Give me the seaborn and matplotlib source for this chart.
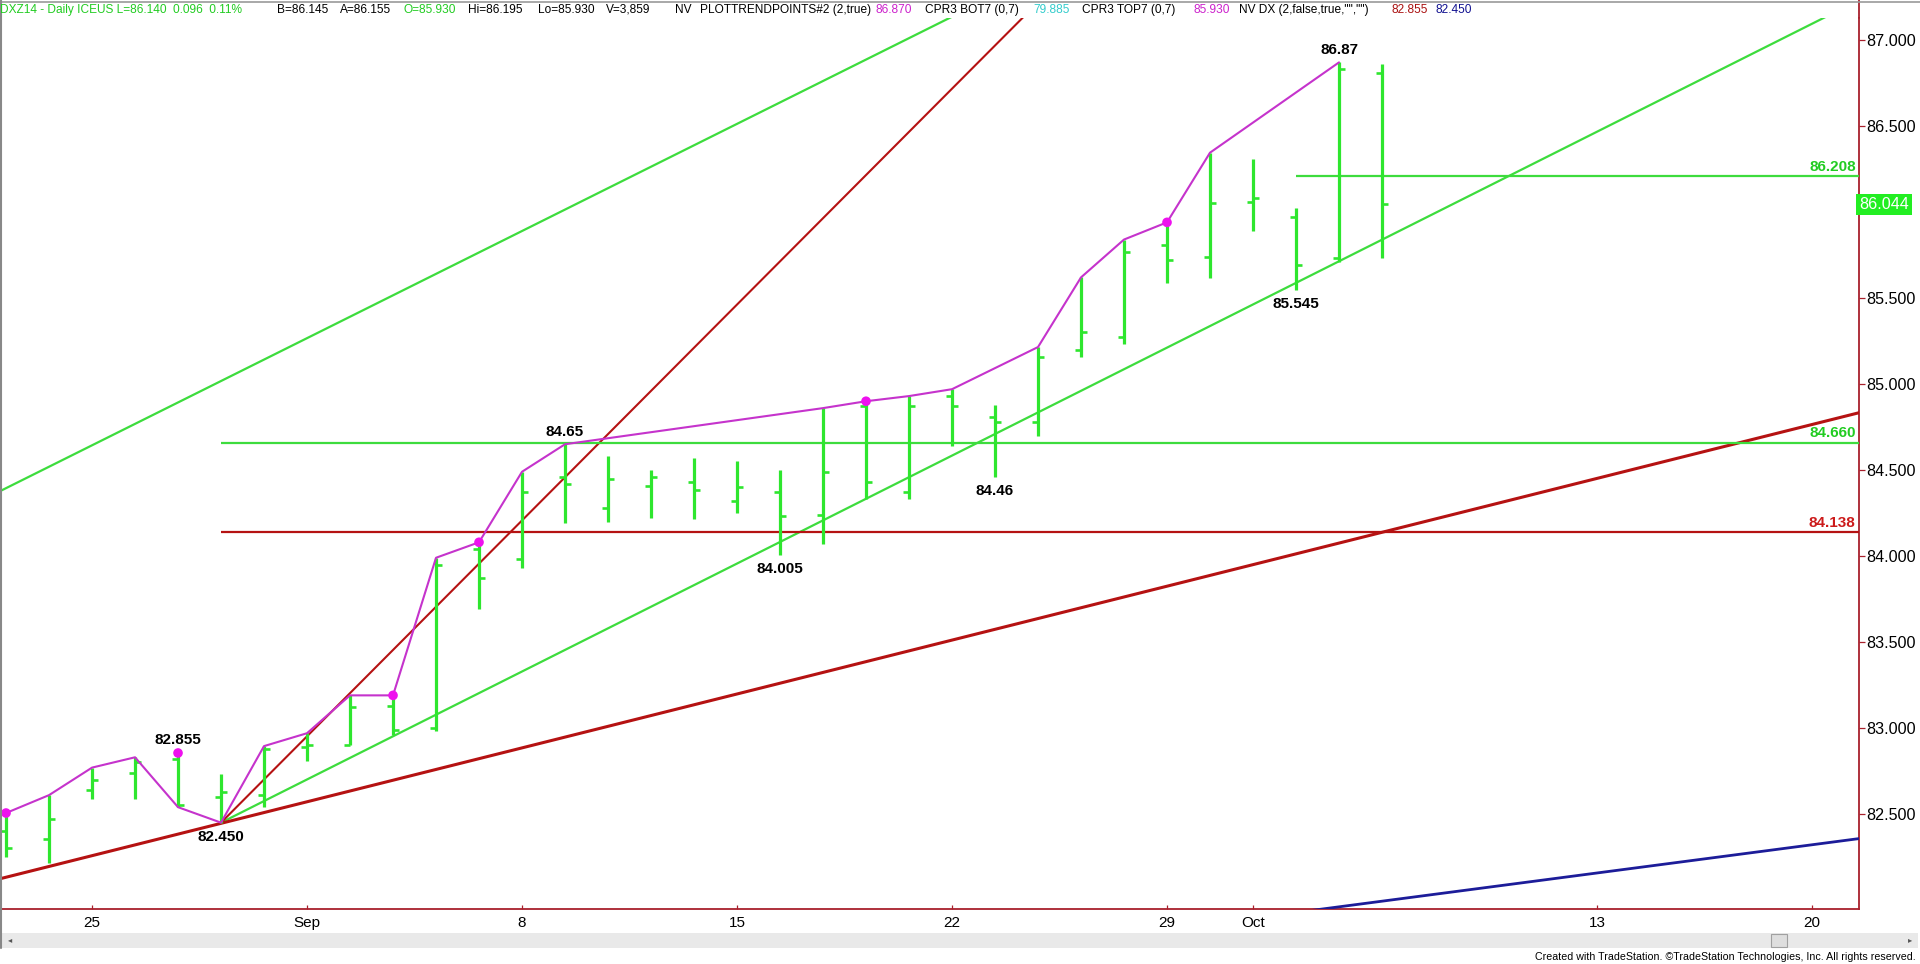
import numpy as np
import pandas as pd
import matplotlib
matplotlib.use("Agg")
import matplotlib.pyplot as plt
import matplotlib.transforms as mtransforms
import seaborn as sns
from matplotlib import font_manager
from matplotlib.patches import Rectangle
from matplotlib.lines import Line2D

# --- Data: daily DXZ14 bars ---
dates = ['Aug 21', 'Aug 22', 'Aug 25', 'Aug 26', 'Aug 27', 'Aug 28', 'Aug 29',
         'Sep 1', 'Sep 2', 'Sep 3', 'Sep 4', 'Sep 5',
         'Sep 8', 'Sep 9', 'Sep 10', 'Sep 11', 'Sep 12',
         'Sep 15', 'Sep 16', 'Sep 17', 'Sep 18', 'Sep 19',
         'Sep 22', 'Sep 23', 'Sep 24', 'Sep 25', 'Sep 26',
         'Sep 29', 'Sep 30', 'Oct 1', 'Oct 2', 'Oct 3', 'Oct 6']
opens = [82.40, 82.355, 82.64, 82.74, 82.82, 82.60, 82.61,
         82.89, 82.90, 83.13, 83.00, 84.04,
         83.98, 84.46, 84.28, 84.41, 84.43,
         84.32, 84.37, 84.24, 84.87, 84.37,
         84.93, 84.81, 84.78, 85.20, 85.275,
         85.81, 85.74, 86.06, 85.97, 85.73, 86.81]
highs = [82.506, 82.61, 82.77, 82.83, 82.855, 82.73, 82.895,
         82.97, 83.19, 83.19, 83.99, 84.08,
         84.49, 84.65, 84.58, 84.50, 84.57,
         84.55, 84.50, 84.86, 84.90, 84.93,
         84.97, 84.88, 85.215, 85.62, 85.84,
         85.94, 86.345, 86.31, 86.025, 86.87, 86.86]
lows = [82.25, 82.215, 82.59, 82.59, 82.54, 82.45, 82.54,
        82.81, 82.90, 82.96, 82.98, 83.69,
        83.93, 84.19, 84.20, 84.22, 84.215,
        84.25, 84.005, 84.07, 84.33, 84.33,
        84.64, 84.46, 84.70, 85.16, 85.23,
        85.59, 85.615, 85.89, 85.545, 85.71, 85.73]
closes = [82.30, 82.47, 82.70, 82.80, 82.55, 82.63, 82.88,
          82.90, 83.12, 82.99, 83.95, 83.87,
          84.37, 84.42, 84.45, 84.46, 84.385,
          84.40, 84.23, 84.49, 84.43, 84.87,
          84.87, 84.78, 85.16, 85.30, 85.77,
          85.72, 86.05, 86.08, 85.69, 86.83, 86.044]

# trend-point (magenta) line vertices and swing dots, by bar number
trend_bar = [0, 1, 2, 3, 4, 5, 6, 7, 8, 9, 10, 11, 12, 13, 19, 20, 21, 22, 24, 25, 26, 27, 28, 31]
trend_px = [82.506, 82.61, 82.77, 82.83, 82.54, 82.45, 82.895, 82.97, 83.19, 83.19, 83.99, 84.08,
            84.49, 84.65, 84.86, 84.90, 84.93, 84.97, 85.215, 85.62, 85.84, 85.94, 86.345, 86.87]
dot_bar = [0, 4, 9, 11, 20, 27]
dot_px = [82.506, 82.855, 83.19, 84.08, 84.90, 85.94]

# swing labels: bar, price, text, above?
label_bar = [4, 5, 13, 18, 23, 30, 31]
label_px = [82.855, 82.450, 84.65, 84.005, 84.46, 85.545, 86.87]
label_txt = ['82.855', '82.450', '84.65', '84.005', '84.46', '85.545', '86.87']
label_up = [True, False, True, False, False, False, True]

# drawn trend lines (two end points each)
upper_green_x, upper_green_y = [-1, 23], [84.27, 87.26]
lower_green_x, lower_green_y = [5, 43], [82.45, 87.22]
red_steep_x, red_steep_y = [5, 25], [82.45, 87.47]
red_low_x, red_low_y = [-1, 44], [82.07, 84.89]
blue_x, blue_y = [29, 44], [81.895, 82.387]

# horizontal levels: price, start bar
level_px = [86.208, 84.660, 84.138]
level_start = [30, 5, 5]

tick_pos = [2, 7, 12, 17, 22, 27, 29, 37, 42]
tick_lab = ['25', 'Sep', '8', '15', '22', '29', 'Oct', '13', '20']
ytick_vals = [82.5, 83.0, 83.5, 84.0, 84.5, 85.0, 85.5, 86.0, 86.5, 87.0]
last_price = 86.044

df = pd.DataFrame({'date': dates, 'open': opens, 'high': highs, 'low': lows, 'close': closes})
df['bar'] = np.arange(len(df))

# --- Style ---
sns.set_style("white")
names = {f.name for f in font_manager.fontManager.ttflist}
narrow = 'Liberation Sans Narrow' in names
plt.rcParams['font.family'] = ['Liberation Sans', 'DejaVu Sans']
nfam = ['Liberation Sans Narrow'] if narrow else ['Liberation Sans']
hdr_size = 10.5 if narrow else 8.6
xt_size = 13 if narrow else 11
foot_size = 9.2 if narrow else 7.7

BAR_GREEN = '#2ee62e'
LINE_GREEN = '#3ddc3d'
TXT_GREEN = '#22cc22'
PINK = '#c533cc'
DOT = '#ee11ee'
RED = '#b51212'
AXRED = '#a8202c'
BLUE = '#1c1c99'

W, H = 1920, 964
fig = plt.figure(figsize=(19.2, 9.64), dpi=100)
fig.patch.set_facecolor('white')
ax_l, ax_r, ax_t, ax_b = 0, 1859, 18, 909
ax = fig.add_axes([ax_l / W, 1 - ax_b / H, (ax_r - ax_l) / W, (ax_b - ax_t) / H])
ax.set_facecolor('white')
ax.set_xlim(-0.14, 43.093)
ax.set_ylim(81.948, 87.128)

# --- OHLC bars ---
ax.vlines(df['bar'], df['low'], df['high'], color=BAR_GREEN, linewidth=2.3, capstyle='butt', zorder=4)
ax.hlines(df['open'], df['bar'] - 0.15, df['bar'], color=BAR_GREEN, linewidth=1.9, zorder=4)
ax.hlines(df['close'], df['bar'], df['bar'] + 0.15, color=BAR_GREEN, linewidth=1.9, zorder=4)

# --- trend lines ---
sns.lineplot(x=upper_green_x, y=upper_green_y, ax=ax, color=LINE_GREEN, linewidth=1.6, zorder=3)
sns.lineplot(x=lower_green_x, y=lower_green_y, ax=ax, color=LINE_GREEN, linewidth=1.6, zorder=3)
sns.lineplot(x=red_steep_x, y=red_steep_y, ax=ax, color=RED, linewidth=1.5, zorder=3)
sns.lineplot(x=red_low_x, y=red_low_y, ax=ax, color=RED, linewidth=2.2, zorder=3)
sns.lineplot(x=blue_x, y=blue_y, ax=ax, color=BLUE, linewidth=2.0, zorder=3)

xr = ax.get_xlim()[1]
for p, s, c in zip(level_px, level_start, [LINE_GREEN, LINE_GREEN, RED]):
    ax.hlines(p, s, xr, color=c, linewidth=1.6, zorder=3)
blend = mtransforms.blended_transform_factory(ax.transAxes, ax.transData)
for p, c in zip(level_px, [TXT_GREEN, TXT_GREEN, '#cc1a1a']):
    ax.text(0.9982, p + 0.012, f'{p:.3f}', transform=blend, ha='right', va='bottom',
            color=c, fontsize=11, fontweight='bold', zorder=6)

# --- trend points line & dots ---
sns.lineplot(x=trend_bar, y=trend_px, ax=ax, color=PINK, linewidth=1.5, sort=False,
             estimator=None, zorder=5)
sns.scatterplot(x=dot_bar, y=dot_px, ax=ax, color=DOT, s=48, edgecolor='none', zorder=6)

for b, p, t, up in zip(label_bar, label_px, label_txt, label_up):
    ax.annotate(t, (b, p), xytext=(0, 4 if up else -5), textcoords='offset points',
                ha='center', va='bottom' if up else 'top', fontsize=11,
                fontweight='bold', color='black', zorder=7)

# --- axes ---
for s in ['top', 'left']:
    ax.spines[s].set_visible(False)
for s in ['right', 'bottom']:
    ax.spines[s].set_color(AXRED)
    ax.spines[s].set_linewidth(1.3)
ax.yaxis.tick_right()
ax.set_yticks(ytick_vals)
# the 86.000 label sits under the last-price box, as on the original
ax.set_yticklabels(['' if abs(v - last_price) < 0.1 else f'{v:.3f}' for v in ytick_vals])
ax.tick_params(axis='y', which='both', direction='out', length=4.5, width=0.9, color=AXRED,
               labelsize=11.6, labelcolor='black', pad=0.8, right=True, left=False)
ax.set_xticks(tick_pos)
ax.set_xticklabels(tick_lab)
ax.tick_params(axis='x', direction='in', length=3, width=0.9, color=AXRED,
               labelsize=xt_size, labelcolor='black', pad=5, bottom=True)
for lab in ax.get_xticklabels():
    lab.set_family(nfam)
ax.set_xlabel('')
ax.set_ylabel('')
ax.grid(False)

# last price box
ax.text(1.0, last_price, f'{last_price:.3f}', transform=blend, ha='left', va='center',
        color='white', fontsize=11.6, zorder=8, clip_on=False,
        bbox=dict(boxstyle='square,pad=0.2', fc='#22ee22', ec='none'))

# --- window chrome ---
fig.add_artist(Line2D([ax_r / W, ax_r / W], [1 - ax_t / H, 1.0], color=AXRED, linewidth=1.3))
fig.add_artist(Line2D([0, 1], [1 - 1.5 / H, 1 - 1.5 / H], color='#999999', linewidth=1.2))
fig.add_artist(Line2D([1 / W, 1 / W], [1 - 948 / H, 1], color='#888888', linewidth=1.5))
fig.add_artist(Rectangle((0, 1 - 948 / H), 1918 / W, 15 / H, transform=fig.transFigure,
                         facecolor='#e9e9e9', edgecolor='none'))
fig.add_artist(Rectangle((1771 / W, 1 - 947 / H), 16 / W, 13 / H, transform=fig.transFigure,
                         facecolor='#dedede', edgecolor='#a0a0a0', linewidth=0.8))
fig.text(8 / W, 1 - 940 / H, '\u25c2', fontsize=6, color='#555555', va='center',
         family=['DejaVu Sans'])
fig.text(1908 / W, 1 - 940 / H, '\u25b8', fontsize=6, color='#555555', va='center',
         family=['DejaVu Sans'])
fig.text(1916 / W, 1 - 957 / H,
         'Created with TradeStation. \u00a9TradeStation Technologies, Inc. All rights reserved.',
         ha='right', va='center', fontsize=foot_size, family=nfam + ['DejaVu Sans'], color='black')

# header line
header = [
    ('DXZ14 - Daily ICEUS L=86.140  0.096  0.11%', TXT_GREEN, 0),
    ('B=86.145', 'black', 277), ('A=86.155', 'black', 340),
    ('O=85.930', TXT_GREEN, 404), ('Hi=86.195', 'black', 468),
    ('Lo=85.930', 'black', 538), ('V=3,859', 'black', 606), ('NV', 'black', 675),
    ('PLOTTRENDPOINTS#2 (2,true)', 'black', 700), ('86.870', '#cc22cc', 876),
    ('CPR3 BOT7 (0,7)', 'black', 925), ('79.885', '#33cccc', 1033),
    ('CPR3 TOP7 (0,7)', 'black', 1082), ('85.930', '#cc22cc', 1193),
    ('NV DX (2,false,true,"","")', 'black', 1239), ('82.855', '#aa1111', 1392),
    ('82.450', '#101090', 1435),
]
for t, c, x in header:
    fig.text(x / W, 1 - 10 / H, t, color=c, fontsize=hdr_size, va='center', ha='left', family=nfam)

fig.savefig('out.png', dpi=100, facecolor='white')
